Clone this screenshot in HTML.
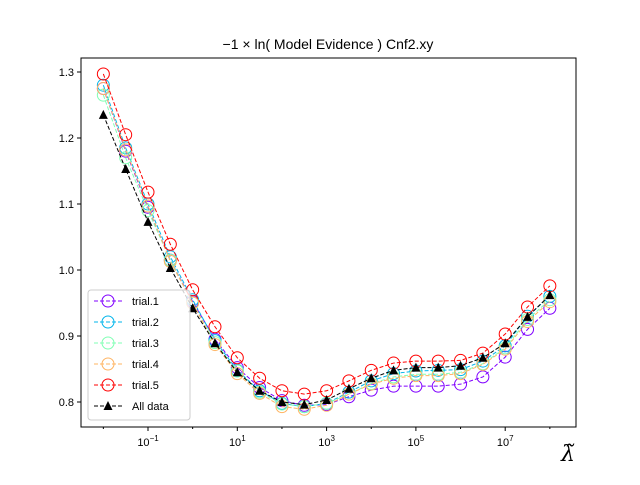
<!DOCTYPE html>
<html><head><meta charset="utf-8"><style>
body{margin:0;background:#fff;}
svg{font-family:"Liberation Sans","DejaVu Sans",sans-serif;}
</style></head><body>
<svg id="c" width="640" height="480" xmlns="http://www.w3.org/2000/svg"></svg>
<script>
const xExp=[-2,-1.5,-1,-0.5,0,0.5,1,1.5,2,2.5,3,3.5,4,4.5,5,5.5,6,6.5,7,7.5,8];
const trial1=[1.275,1.18,1.095,1.015,0.952,0.895,0.852,0.822,0.802,0.795,0.796,0.808,0.818,0.824,0.824,0.824,0.827,0.838,0.868,0.910,0.942];
const trial2=[1.28,1.185,1.10,1.02,0.955,0.893,0.848,0.817,0.798,0.793,0.798,0.815,0.832,0.843,0.847,0.848,0.849,0.862,0.885,0.93,0.96];
const trial3=[1.265,1.17,1.09,1.015,0.95,0.89,0.847,0.815,0.797,0.793,0.798,0.812,0.828,0.838,0.842,0.842,0.845,0.858,0.882,0.925,0.955];
const trial4=[1.275,1.182,1.097,1.013,0.95,0.887,0.843,0.813,0.793,0.789,0.795,0.812,0.827,0.836,0.84,0.84,0.843,0.857,0.88,0.922,0.952];
const trial5=[1.297,1.205,1.118,1.039,0.970,0.914,0.867,0.836,0.817,0.812,0.817,0.832,0.848,0.859,0.862,0.862,0.863,0.874,0.903,0.944,0.976];
const allData=[1.235,1.153,1.073,1.003,0.942,0.889,0.845,0.817,0.800,0.796,0.803,0.820,0.836,0.848,0.852,0.852,0.855,0.867,0.889,0.929,0.962];
const yTicks=[0.8,0.9,1.0,1.1,1.2,1.3];
const xTicks=[-1,1,3,5,7];
const xMinor=[-2,0,2,4,6,8];
const names=["trial.1","trial.2","trial.3","trial.4","trial.5"];
const colors=["#8000ff","#00b5eb","#80ffb4","#ffb462","#ff0000"];

const L=81,R=576,T=58,B=427;
const X=e=>148+(e+1)*44.65;
const Y=v=>402-(v-0.8)*660;
const svg=document.getElementById('c');
const NS='http://www.w3.org/2000/svg';
function mk(tag,attrs,parent){const el=document.createElementNS(NS,tag);for(const k in attrs)el.setAttribute(k,attrs[k]);(parent||svg).appendChild(el);return el;}

let g=mk('g',{});


yTicks.forEach(v=>{
  mk('line',{x1:L-4,x2:L,y1:Y(v),y2:Y(v),stroke:'#000'},g);
  const t=mk('text',{x:L-7,y:Y(v)+4,'text-anchor':'end','font-size':'11'},g);
  t.textContent=v.toFixed(1);
  
  
});
let gx=mk('g',{});


xTicks.forEach(e=>{
  mk('line',{x1:X(e),x2:X(e),y1:B,y2:B+4,stroke:'#000'},gx);
  const t=mk('text',{x:X(e),y:B+19,'text-anchor':'middle','font-size':'11'},gx);
  
  
  const b=mk('tspan',{},t);b.textContent='10';
  const s=mk('tspan',{'font-size':'8',dy:'-5'},t);
  s.textContent=e<0?'\u2212'+(-e):String(e);
});
xMinor.forEach(e=>{mk('line',{x1:X(e),x2:X(e),y1:B,y2:B+2,stroke:'#000'},gx);});

function series(vals,color,name,tri){
  const gg=mk('g',{});
  
  
  const pts=vals.map((v,i)=>X(xExp[i])+','+Y(v)).join(' ');
  mk('polyline',{points:pts,fill:'none',stroke:color,'stroke-width':1,'stroke-dasharray':'4,2'},gg);
  vals.forEach((v,i)=>{
    const cx=X(xExp[i]),cy=Y(v);
    let m;
    if(tri) m=mk('polygon',{points:`${cx},${cy-5} ${cx-4.5},${cy+4} ${cx+4.5},${cy+4}`,fill:color},gg);
    else m=mk('circle',{cx:cx,cy:cy,r:6,fill:'none',stroke:color,'stroke-width':1},gg);
    
    
  });
}
[trial1,trial2,trial3,trial4,trial5].forEach((s,i)=>series(s,colors[i],names[i]+'-series',false));
series(allData,'#000','all-data-series',true);

const fr=mk('rect',{x:L,y:T,width:R-L,height:B-T,fill:'none',stroke:'#000','stroke-width':1});



const lg=mk('g',{});


mk('rect',{x:88,y:290,width:102,height:130,rx:3,fill:'#fff','fill-opacity':0.8,stroke:'#ccc'},lg);
const lnames=names.concat(['All data']),lcols=colors.concat(['#000']);
lnames.forEach((n,i)=>{
  const y=301+i*21;
  const e=mk('g',{},lg);
  
  
  mk('line',{x1:94,x2:122,y1:y,y2:y,stroke:lcols[i],'stroke-dasharray':'4,2'},e);
  if(i<5) mk('circle',{cx:108,cy:y,r:6,fill:'none',stroke:lcols[i]},e);
  else mk('polygon',{points:`108,${y-5} 103.5,${y+4} 112.5,${y+4}`,fill:'#000'},e);
  const t=mk('text',{x:132,y:y+4,'font-size':'11'},e);
  t.textContent=n;
});

const title=mk('text',{x:328,y:49,'text-anchor':'middle','font-size':'14'});
title.textContent='\u22121 \u00d7 ln( Model Evidence ) Cnf2.xy';


const xl=mk('text',{x:568,y:461,'text-anchor':'middle','font-size':'22','font-style':'italic','font-family':'DejaVu Serif, serif'});
xl.textContent='\u03bb\u0303';


</script>
</body></html>
